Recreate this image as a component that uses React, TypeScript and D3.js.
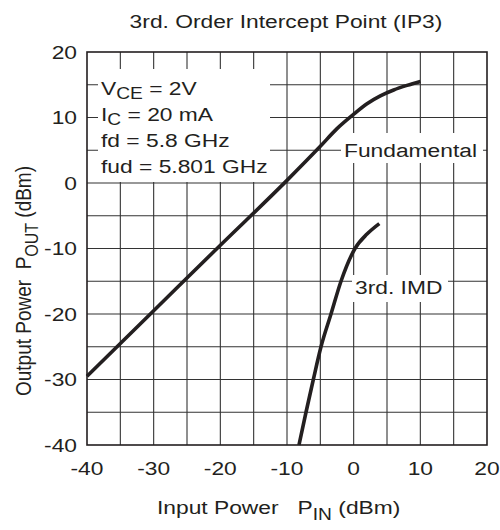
import React from "react";
import * as d3 from "d3";

// ---- data ----
const fundamentalIn = [-40, -30, -20, -10, -5, -2.5, 0, 2, 4, 6, 8, 10];
const fundamentalOut = [-29.5, -19.5, -9.5, 0.4, 5.6, 8.3, 10.5, 12.1, 13.3, 14.2, 14.9, 15.5];
const imdIn = [-8.2, -7.15, -6.05, -4.9, -3.4, -1.9, 0.2, 2.0, 3.85];
const imdOut = [-40, -35, -30, -25, -20, -15, -10, -7.8, -6.2];
const xTicks = [-40, -30, -20, -10, 0, 10, 20];
const yTicks = [20, 10, 0, -10, -20, -30, -40];
const gridStep = 5;

const FONT = "'Liberation Sans', Arial, Helvetica, sans-serif";
const SX = 1.2; // horizontal stretch of the reference lettering
const FS = 19;
const SUB = 16;
const INK = "#231f20";

function ST({
  x,
  y,
  anchor = "start",
  size = FS,
  children,
}: {
  x: number;
  y: number;
  anchor?: string;
  size?: number;
  children: React.ReactNode;
}) {
  return (
    <text
      transform={`translate(${x},${y}) scale(${SX},1)`}
      textAnchor={anchor}
      fontSize={size}
      fill={INK}
    >
      {children}
    </text>
  );
}

export default function App() {
  const left = 87, right = 487, top = 52, bottom = 445;
  const x = d3.scaleLinear().domain([-40, 20]).range([left, right]);
  const y = d3.scaleLinear().domain([-40, 20]).range([bottom, top]);

  const gridX = d3.range(-40 + gridStep, 20, gridStep);
  const gridY = d3.range(-40 + gridStep, 20, gridStep);

  const line = d3
    .line<[number, number]>()
    .x((d) => x(d[0]))
    .y((d) => y(d[1]))
    .curve(d3.curveMonotoneX);

  const fund = fundamentalIn.map((v, i) => [v, fundamentalOut[i]] as [number, number]);
  const imd = imdIn.map((v, i) => [v, imdOut[i]] as [number, number]);

  return (
    <svg
      width={500}
      height={530}
      style={{ position: "absolute", left: 0, top: 0, background: "#fff" }}
      fontFamily={FONT}
    >
      <rect x={0} y={0} width={500} height={530} fill="#fff" />
      {/* title */}
      <ST x={286} y={28} anchor="middle">
        3rd. Order Intercept Point (IP3)
      </ST>

      {/* grid */}
      <g stroke="#333" strokeWidth={1.1}>
        {gridX.map((v) => (
          <line key={"gx" + v} x1={x(v)} x2={x(v)} y1={top} y2={bottom} />
        ))}
        {gridY.map((v) => (
          <line key={"gy" + v} x1={left} x2={right} y1={y(v)} y2={y(v)} />
        ))}
      </g>

      {/* label knockouts */}
      <rect x={98} y={69} width={172} height={113} fill="#fff" />
      <rect x={341} y={133} width={142} height={30} fill="#fff" />
      <rect x={352} y={275} width={96} height={27} fill="#fff" />

      {/* border */}
      <rect
        x={left}
        y={top}
        width={right - left}
        height={bottom - top}
        fill="none"
        stroke={INK}
        strokeWidth={1.6}
      />

      {/* parameter text */}
      <ST x={101} y={95}>
        V<tspan fontSize={SUB} dy={4}>CE</tspan>
        <tspan dy={-4}> = 2V</tspan>
      </ST>
      <ST x={101} y={121}>
        I<tspan fontSize={SUB} dy={4}>C</tspan>
        <tspan dy={-4}> = 20 mA</tspan>
      </ST>
      <ST x={101} y={147}>fd = 5.8 GHz</ST>
      <ST x={101} y={173}>fud = 5.801 GHz</ST>
      <ST x={344} y={156.5}>Fundamental</ST>
      <ST x={355} y={294}>3rd. IMD</ST>

      {/* curves */}
      <path d={line(fund) || ""} fill="none" stroke={INK} strokeWidth={3.6} />
      <path d={line(imd) || ""} fill="none" stroke={INK} strokeWidth={3.6} />

      {/* y tick labels */}
      {yTicks.map((v) => (
        <ST key={"yt" + v} x={77} y={y(v) + 6.5} anchor="end">
          {v}
        </ST>
      ))}
      {/* x tick labels */}
      {xTicks.map((v) => (
        <ST key={"xt" + v} x={x(v)} y={475} anchor="middle">
          {v}
        </ST>
      ))}

      {/* axis titles */}
      <ST x={157} y={514}>
        Input Power{"\u00A0\u00A0\u00A0"}P<tspan fontSize={SUB} dy={6}>IN</tspan>
        <tspan dy={-6}> (dBm)</tspan>
      </ST>
      <text
        transform={`translate(31,281) scale(${SX},1) rotate(-90)`}
        textAnchor="middle"
        fontSize={FS}
        fill={INK}
      >
        Output Power{"\u00A0\u00A0"}P<tspan fontSize={SUB} dy={6}>OUT</tspan>
        <tspan dy={-6}> (dBm)</tspan>
      </text>
    </svg>
  );
}
